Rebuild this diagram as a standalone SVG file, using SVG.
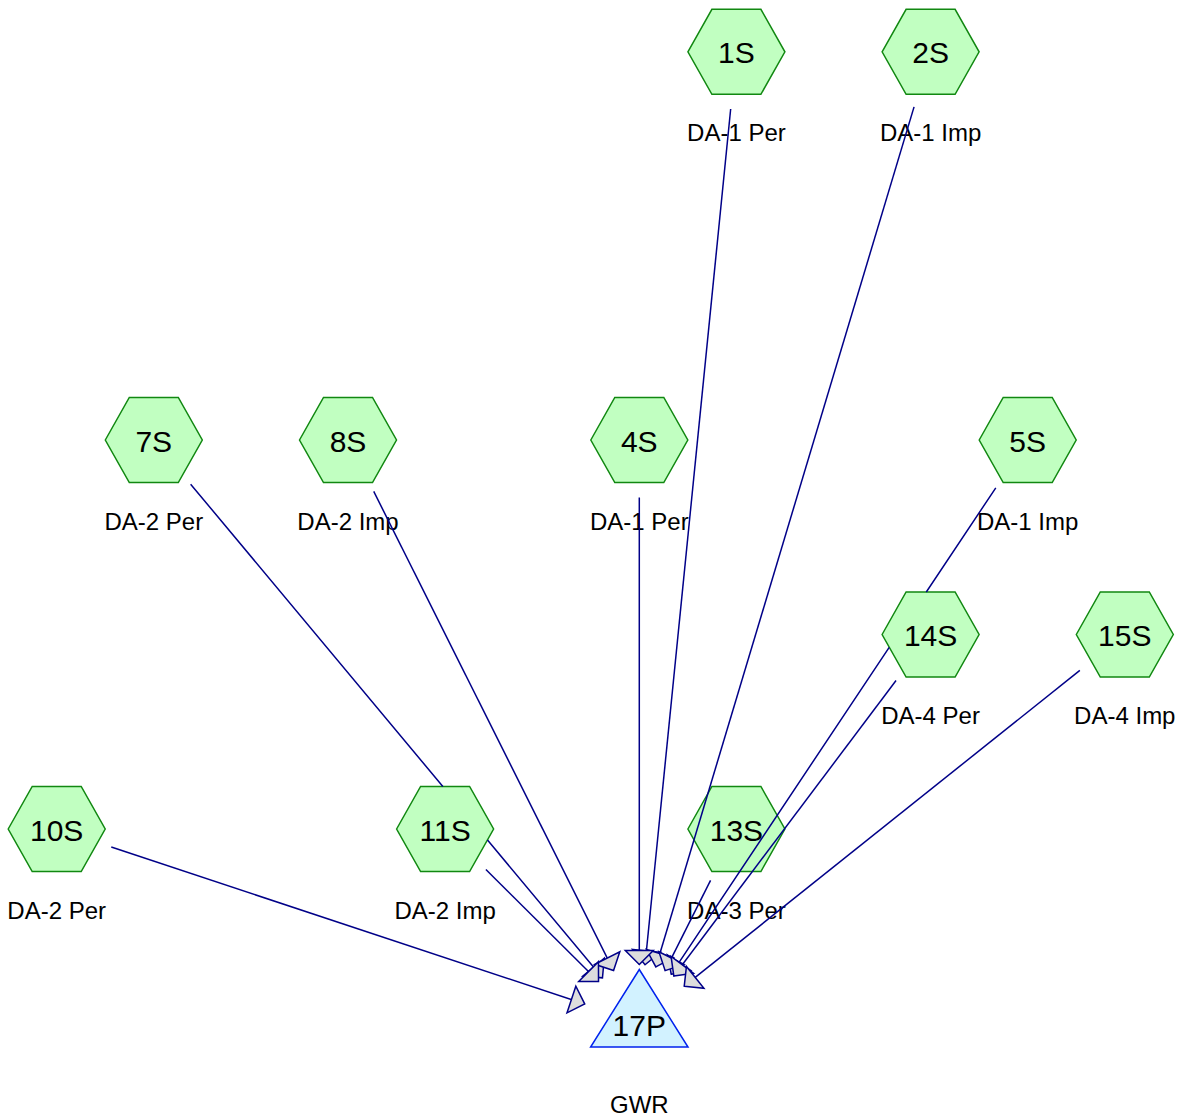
<svg xmlns="http://www.w3.org/2000/svg" width="1178" height="1120" viewBox="0 0 1178 1120">
<style>
.hex{fill:#c1ffc1;stroke:#118811;stroke-width:1.5}
.tri{fill:#d2f2ff;stroke:#0022ee;stroke-width:1.5}
.nm{font-family:"Liberation Sans",Arial,sans-serif;font-size:30px;fill:#000;text-anchor:middle}
.lb{font-family:"Liberation Sans",Arial,sans-serif;font-size:24px;fill:#000;text-anchor:middle}
.edge{fill:none;stroke:#000088;stroke-width:1.5;marker-end:url(#arr)}
</style>
<defs>
<marker id="arr" markerUnits="userSpaceOnUse" viewBox="-16 -16 32 32" refX="0" refY="0" markerWidth="32" markerHeight="32" orient="auto" overflow="visible">
<path d="M0,0 L-14,-14 L-14,14 Z" fill="#dddddd" stroke="#000088" stroke-width="1.5" stroke-linejoin="miter"/>
</marker>
<polygon id="hx" points="-48.5,0 -24.5,-42.5 24.5,-42.5 48.5,0 24.5,42.5 -24.5,42.5"/>
</defs>
<rect width="1178" height="1120" fill="#ffffff"/>
<g id="nodes">
<g id="n1S"><use href="#hx" class="hex" x="736.4" y="51.8"/><text class="nm" x="736.4" y="63.3">1S</text><text class="lb" x="736.4" y="141.3">DA-1 Per</text></g>
<g id="n2S"><use href="#hx" class="hex" x="930.6" y="51.8"/><text class="nm" x="930.6" y="63.3">2S</text><text class="lb" x="930.6" y="141.3">DA-1 Imp</text></g>
<g id="n7S"><use href="#hx" class="hex" x="153.8" y="440"/><text class="nm" x="153.8" y="451.5">7S</text><text class="lb" x="153.8" y="529.5">DA-2 Per</text></g>
<g id="n8S"><use href="#hx" class="hex" x="348" y="440"/><text class="nm" x="348" y="451.5">8S</text><text class="lb" x="348" y="529.5">DA-2 Imp</text></g>
<g id="n4S"><use href="#hx" class="hex" x="639.3" y="440"/><text class="nm" x="639.3" y="451.5">4S</text><text class="lb" x="639.3" y="529.5">DA-1 Per</text></g>
<g id="n5S"><use href="#hx" class="hex" x="1027.7" y="440"/><text class="nm" x="1027.7" y="451.5">5S</text><text class="lb" x="1027.7" y="529.5">DA-1 Imp</text></g>
<g id="n14S"><use href="#hx" class="hex" x="930.6" y="634.5"/><text class="nm" x="930.6" y="646">14S</text><text class="lb" x="930.6" y="724">DA-4 Per</text></g>
<g id="n15S"><use href="#hx" class="hex" x="1124.8" y="634.5"/><text class="nm" x="1124.8" y="646">15S</text><text class="lb" x="1124.8" y="724">DA-4 Imp</text></g>
<g id="n10S"><use href="#hx" class="hex" x="56.7" y="829"/><text class="nm" x="56.7" y="840.5">10S</text><text class="lb" x="56.7" y="918.5">DA-2 Per</text></g>
<g id="n11S"><use href="#hx" class="hex" x="445.1" y="829"/><text class="nm" x="445.1" y="840.5">11S</text><text class="lb" x="445.1" y="918.5">DA-2 Imp</text></g>
<g id="n13S"><use href="#hx" class="hex" x="736.4" y="829"/><text class="nm" x="736.4" y="840.5">13S</text><text class="lb" x="736.4" y="918.5">DA-3 Per</text></g>
<g id="n17P"><polygon class="tri" points="639.3,969.5 688,1047 590.6,1047"/><text class="nm" x="639.3" y="1036">17P</text><text class="lb" x="639.3" y="1113">GWR</text></g>
</g>
<g id="connectors">
<path class="edge" d="M730.67,109.02 L645.03,964.78"/>
<path class="edge" d="M914.06,106.87 L655.84,966.93"/>
<path class="edge" d="M639.3,497.5 L639.3,964.5"/>
<path class="edge" d="M995.78,487.83 L926.3,592 M889.2,647.4 L671.22,974.17"/>
<path class="edge" d="M190.63,484.16 L442.85,786.5 M487.5,840 L602.47,977.84"/>
<path class="edge" d="M373.74,491.42 L613.56,970.58"/>
<path class="edge" d="M111.29,847.08 L584.71,1003.92"/>
<path class="edge" d="M485.88,869.53 L598.52,981.47"/>
<path class="edge" d="M710.56,880.37 L665.14,970.63"/>
<path class="edge" d="M896.05,680.46 L673.85,976.04"/>
<path class="edge" d="M1079.86,670.37 L684.24,986.13"/>
</g>
</svg>
